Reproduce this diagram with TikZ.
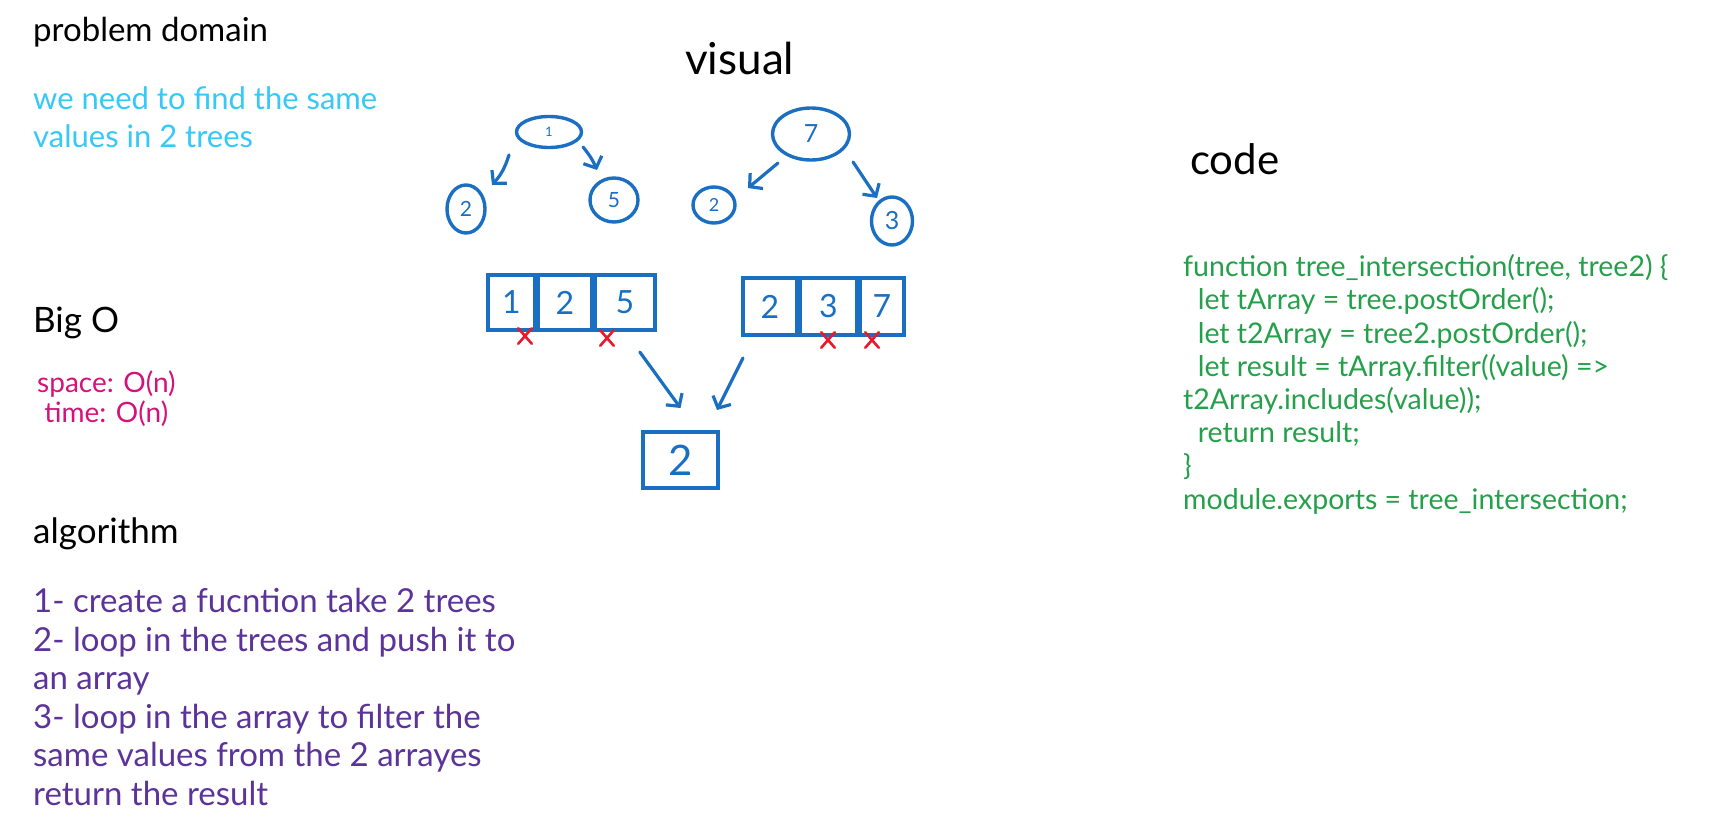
\documentclass[tikz,border=0pt]{standalone}
\usepackage{fontspec}
\setmainfont{Lato}
\usetikzlibrary{positioning,shapes.geometric,shapes.misc,arrows.meta}

\definecolor{inkblue}{HTML}{1A6FC2}
\definecolor{inkcyan}{HTML}{36C8F6}
\definecolor{inkpink}{HTML}{D4127A}
\definecolor{inkpurple}{HTML}{5C3399}
\definecolor{inkgreen}{HTML}{25A04A}
\definecolor{inkred}{HTML}{E8192C}

\tikzset{
  heading/.style={anchor=base west, inner sep=0pt, font=\fontsize{33}{38}\selectfont},
  note/.style={anchor=base west, inner sep=0pt, align=left},
  treenode/.style={draw=inkblue, ellipse, line width=3.4pt, inner sep=0pt, text=inkblue},
  cell/.style={draw=inkblue, rectangle, line width=3.4pt, inner sep=0pt, text=inkblue,
    font=\fontsize{32}{32}\selectfont},
  link/.style={draw=inkblue, line width=3.2pt, line cap=round,
    -{Straight Barb[length=9pt,width=20pt,line width=3.2pt]}},
  crossmark/.style={cross out, draw=inkred, line width=2.6pt, line cap=round,
    minimum width=11pt, minimum height=13pt, inner sep=0pt}
}

\begin{document}
\begin{tikzpicture}[x=1pt, y=-1pt]
\useasboundingbox (0,0) rectangle (1719,832);

%% headings
\node[heading] (problem) at (33,42) {problem domain};
\node[heading, font=\fontsize{35}{38}\selectfont] (bigo) at (33,332) {Big O};
\node[heading, font=\fontsize{35}{38}\selectfont] (algo) at (33,543) {algorithm};
\node[heading, font=\fontsize{44}{44}\selectfont] (visual) at (685,75) {visual};
\node[heading, font=\fontsize{42}{42}\selectfont] (code) at (1190,175) {code};

%% notes (anchored at the baseline of their last line)
\node[note, text=inkcyan, font=\fontsize{31}{38}\selectfont] (domain) at (33,148)
  {we need to find the same\\values in 2 trees};
\node[note, text=inkpink, font=\fontsize{28}{30}\selectfont] (cost) at (37,422)
  {space: O(n)\\\ time: O(n)};
\node[note, text=inkpurple, font=\fontsize{33}{38.5}\selectfont] (steps) at (33,805)
  {1- create a fucntion take 2 trees\\
   2- loop in the trees and push it to\\
   an array\\
   3- loop in the array to filter the\\
   same values from the 2 arrayes\\
   return the result};
\node[note, text=inkgreen, font=\fontsize{28.5}{33.2}\selectfont] (listing) at (1183,509)
  {function tree\_intersection(tree, tree2) \{\\
  \ \ let tArray = tree.postOrder();\\
  \ \ let t2Array = tree2.postOrder();\\
  \ \ let result = tArray.filter((value) =>\\
   t2Array.includes(value));\\
  \ \ return result;\\
   \}\\
   module.exports = tree\_intersection;};

%% first tree
\node[treenode, minimum width=65pt, minimum height=31pt, font=\fontsize{13}{13}\selectfont] (one) at (549,132) {1};
\node[treenode, minimum width=38pt, minimum height=48pt, font=\fontsize{21}{21}\selectfont] (t1l) at (466,209) {2};
\node[treenode, minimum width=48pt, minimum height=44pt, font=\fontsize{21}{21}\selectfont] (t1r) at (614,200) {5};

\draw[link] ([shift={(-40,23)}]one.center) to[bend left=12] ([shift={(26,-24)}]t1l.center);
\draw[link] ([shift={(34,15)}]one.center) to[bend left=8] ([shift={(-17,-30)}]t1r.center);

%% second tree
\node[treenode, minimum width=77pt, minimum height=52pt, font=\fontsize{25}{25}\selectfont] (seven) at (811,134) {7};
\node[treenode, minimum width=42pt, minimum height=36pt, font=\fontsize{18}{18}\selectfont] (t2l) at (714,205) {2};
\node[treenode, minimum width=41pt, minimum height=48pt, font=\fontsize{25}{25}\selectfont] (t2r) at (892,221) {3};

\draw[link] ([shift={(-33,29)}]seven.center) -- ([shift={(34,-17)}]t2l.center);
\draw[link] ([shift={(42,28)}]seven.center) -- ([shift={(-15,-23)}]t2r.center);

%% arrays
\node[cell, minimum width=47pt, minimum height=55pt] (l1) at (511.5,302.5) {1};
\node[cell, minimum width=53pt, minimum height=55pt, right=0pt of l1] (l2) {2};
\node[cell, minimum width=60pt, minimum height=55pt, right=0pt of l2] (l5) {5};

\node[cell, minimum width=54pt, minimum height=57pt] (r2) at (770,306.5) {2};
\node[cell, minimum width=56pt, minimum height=57pt, right=0pt of r2] (r3) {3};
\node[cell, minimum width=44pt, minimum height=57pt, right=0pt of r3] (r7) {7};

\node[crossmark] (x1) at (525,336) {};
\node[crossmark] (x5) at (607,338) {};
\node[crossmark] (x3) at (828,340) {};
\node[crossmark] (x7) at (872,340) {};

%% result
\node[cell, minimum width=75pt, minimum height=56pt, font=\fontsize{42}{42}\selectfont] (res) at (680.5,460) {2};

\draw[link] ([shift={(15,49.5)}]l5.center) -- ([shift={(0,-52)}]res.center);
\draw[link] ([shift={(-27,51.5)}]r2.center) -- ([shift={(36.5,-50)}]res.center);

\end{tikzpicture}
\end{document}
